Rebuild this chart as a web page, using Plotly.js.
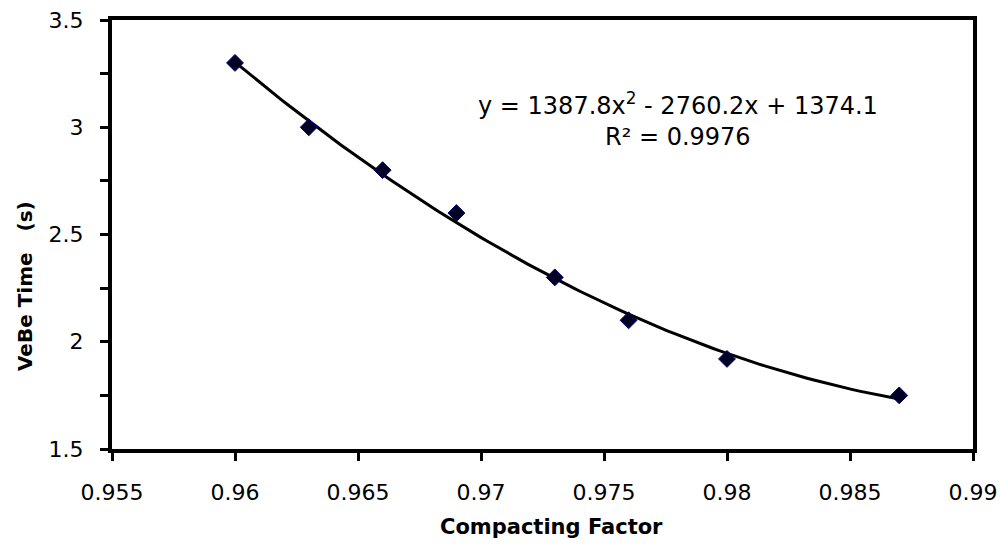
<!DOCTYPE html>
<html>
<head>
<meta charset="utf-8">
<script src="https://cdn.plot.ly/plotly-3.0.1.min.js"></script>
<style>html,body{margin:0;padding:0;background:#fff;}#chart{width:1000px;height:544px;}</style>
</head>
<body>
<div id="chart"></div>
<script>
const compactingFactor = [0.960, 0.963, 0.966, 0.969, 0.973, 0.976, 0.980, 0.987];
const vebeTime = [3.30, 3.00, 2.80, 2.60, 2.30, 2.10, 1.92, 1.75];
const equationText = 'y = 1387.8x<sup>2</sup> - 2760.2x + 1374.1';
const r2Text = 'R² = 0.9976';
const xTitle = 'Compacting Factor';
const yTitle = 'VeBe Time\u00a0\u00a0 (s)';

// least-squares quadratic fit of the data (as the spreadsheet trendline)
function quadFit(xs, ys) {
  const n = xs.length, x0 = 0.97;
  let S = [0,0,0,0,0], T = [0,0,0];
  for (let i = 0; i < n; i++) {
    const u = xs[i] - x0;
    let p = 1;
    for (let k = 0; k < 5; k++) { S[k] += p; if (k < 3) T[k] += p * ys[i]; p *= u; }
  }
  const A = [[S[0],S[1],S[2],T[0]],[S[1],S[2],S[3],T[1]],[S[2],S[3],S[4],T[2]]];
  for (let c = 0; c < 3; c++) {
    for (let r = c + 1; r < 3; r++) {
      const f = A[r][c] / A[c][c];
      for (let k = c; k < 4; k++) A[r][k] -= f * A[c][k];
    }
  }
  const b = [0,0,0];
  for (let r = 2; r >= 0; r--) {
    let s = A[r][3];
    for (let k = r + 1; k < 3; k++) s -= A[r][k] * b[k];
    b[r] = s / A[r][r];
  }
  return x => { const u = x - x0; return b[0] + b[1]*u + b[2]*u*u; };
}
const fit = quadFit(compactingFactor, vebeTime);
const xMin = compactingFactor[0], xMax = compactingFactor[compactingFactor.length-1];
const fitX = [], fitY = [];
for (let i = 0; i <= 100; i++) { const x = xMin + (xMax - xMin) * i / 100; fitX.push(x); fitY.push(fit(x)); }

const font = 'DejaVu Sans, Arial, sans-serif';
const data = [
  {x: fitX, y: fitY, mode: 'lines', line: {color: '#000', width: 3}, hoverinfo: 'skip', showlegend: false},
  {x: compactingFactor, y: vebeTime, mode: 'markers',
   marker: {symbol: 'diamond', size: 13, color: '#000022', line: {color: '#000080', width: 1}}, showlegend: false}
];
const layout = {
  width: 1000, height: 544,
  margin: {l: 112, r: 27, t: 20, b: 95},
  paper_bgcolor: '#fff', plot_bgcolor: '#fff',
  font: {family: font, size: 22, color: '#000'},
  showlegend: false,
  xaxis: {
    range: [0.955, 0.99], dtick: 0.005, tick0: 0.955,
    ticks: 'outside', ticklen: 8, tickwidth: 3, tickcolor: '#000',
    ticklabelstandoff: 13,
    showline: true, linewidth: 4, linecolor: '#000', mirror: true,
    showgrid: false, zeroline: false,
    tickfont: {family: font, size: 22, color: '#000'}
  },
  yaxis: {
    range: [1.5, 3.5], dtick: 0.5, tick0: 1.5,
    ticks: 'outside', ticklen: 8, tickwidth: 3, tickcolor: '#000',
    ticklabelstandoff: 12,
    minor: {dtick: 0.25, ticks: 'outside', ticklen: 8, tickwidth: 3, tickcolor: '#000', showgrid: false},
    showline: true, linewidth: 4, linecolor: '#000', mirror: true,
    showgrid: false, zeroline: false,
    tickfont: {family: font, size: 22, color: '#000'}
  },
  annotations: [
    {xref: 'paper', yref: 'paper', x: 0.657, y: 0.805, text: equationText, showarrow: false,
     font: {family: font, size: 24, color: '#000'}, xanchor: 'center', yanchor: 'middle'},
    {xref: 'paper', yref: 'paper', x: 0.657, y: 0.728, text: r2Text, showarrow: false,
     font: {family: font, size: 24, color: '#000'}, xanchor: 'center', yanchor: 'middle'},
    {xref: 'paper', yref: 'paper', x: 0.511, y: -0.182, text: '<b>' + xTitle + '</b>', showarrow: false,
     font: {family: font, size: 21, color: '#000'}, xanchor: 'center', yanchor: 'middle'},
    {xref: 'paper', yref: 'paper', x: -0.101, y: 0.38, text: '<b>' + yTitle + '</b>', showarrow: false,
     textangle: -90, font: {family: font, size: 20, color: '#000'}, xanchor: 'center', yanchor: 'middle'}
  ]
};
Plotly.newPlot('chart', data, layout, {staticPlot: true, displayModeBar: false});
</script>
</body>
</html>
